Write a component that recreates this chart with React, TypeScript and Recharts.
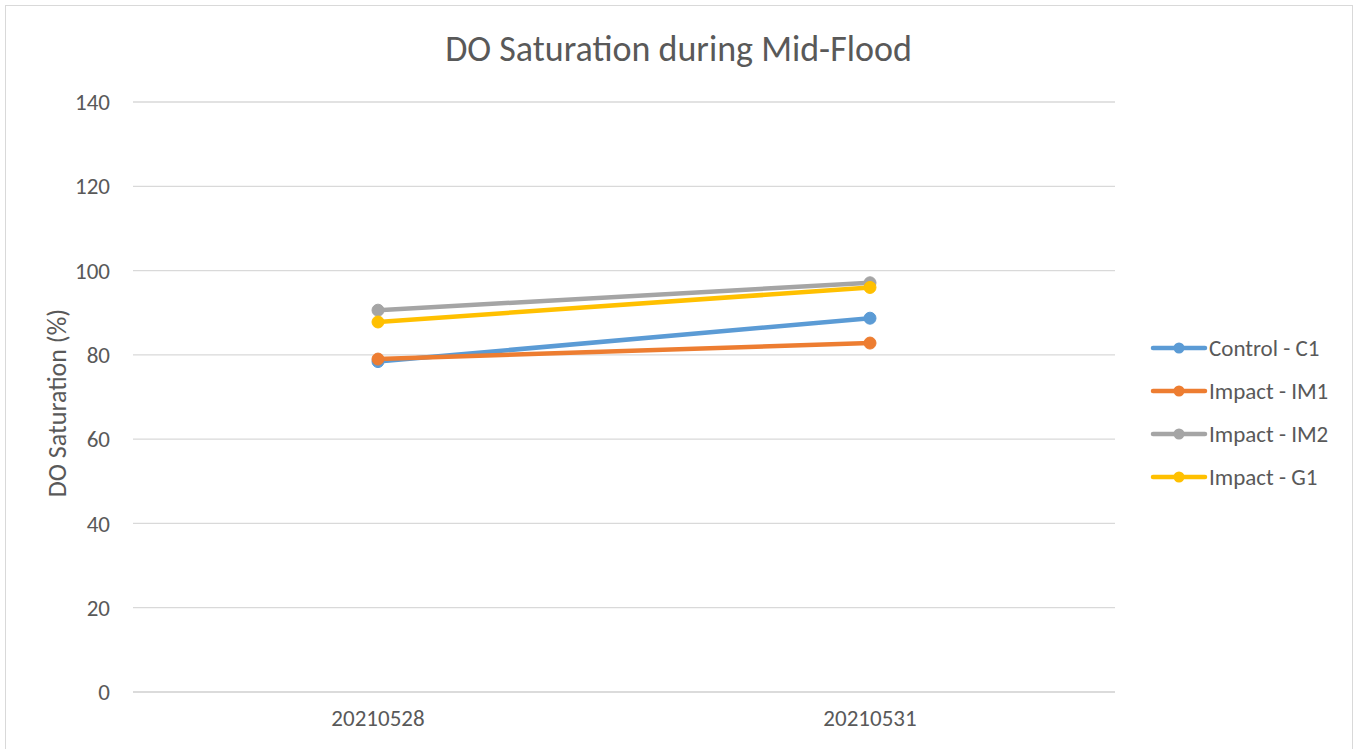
import { LineChart, Line, XAxis, YAxis, CartesianGrid } from 'recharts';

const dates = ['20210528', '20210531'];
const controlC1 = [78.4, 88.7];
const impactIM1 = [79.0, 82.8];
const impactIM2 = [90.6, 97.1];
const impactG1 = [87.8, 96.0];
const yTicks = [0, 20, 40, 60, 80, 100, 120, 140];

const SERIES = [
  { key: 'c1', name: 'Control - C1', color: '#5B9BD5' },
  { key: 'im1', name: 'Impact - IM1', color: '#ED7D31' },
  { key: 'im2', name: 'Impact - IM2', color: '#A5A5A5' },
  { key: 'g1', name: 'Impact - G1', color: '#FFC000' },
];

const data = dates.map((d, i) => ({
  date: d,
  c1: controlC1[i],
  im1: impactIM1[i],
  im2: impactIM2[i],
  g1: impactG1[i],
}));

const FONT = 'Calibri, Carlito, "Open Sans", "Liberation Sans", sans-serif';
const TEXT = '#595959';

function LegendBox() {
  return (
    <div style={{ position: 'absolute', left: 1150, top: 326, fontFamily: FONT, fontSize: 23, color: TEXT }}>
      {SERIES.map((s) => (
        <div key={s.key} style={{ display: 'flex', alignItems: 'center', height: 43 }}>
          <svg width={58} height={14}>
            <line x1={3} y1={7} x2={55} y2={7} stroke={s.color} strokeWidth={4.5} strokeLinecap="round" />
            <circle cx={29} cy={7} r={5.5} fill={s.color} />
          </svg>
          <span style={{ marginLeft: 1, whiteSpace: 'nowrap' }}>{s.name}</span>
        </div>
      ))}
    </div>
  );
}

export default function App() {
  return (
    <div style={{ position: 'absolute', left: 0, top: 0, width: 1357, height: 749, background: '#fff', overflow: 'hidden' }}>
      <div style={{ position: 'absolute', left: 5, top: 5, width: 1346, height: 760, border: '1px solid #d9d9d9' }} />
      <div style={{ position: 'absolute', left: 0, top: 0 }}>
        <LineChart width={1357} height={749} data={data} margin={{ top: 102, right: 242, bottom: 27, left: 73 }}>
          <CartesianGrid vertical={false} stroke="#d9d9d9" strokeWidth={1.3} />
          <XAxis
            dataKey="date"
            height={30}
            padding={{ left: 245, right: 245 }}
            tickLine={false}
            axisLine={{ stroke: '#d9d9d9', strokeWidth: 1.3 }}
            tickSize={0}
            tickMargin={18}
            tick={{ fill: TEXT, fontSize: 23, fontFamily: FONT }}
          />
          <YAxis
            domain={[0, 140]}
            ticks={yTicks}
            width={60}
            tickLine={false}
            axisLine={false}
            tickSize={0}
            tickMargin={23}
            tick={{ fill: TEXT, fontSize: 23, fontFamily: FONT }}
          />
          {SERIES.map((s) => (
            <Line
              key={s.key}
              dataKey={s.key}
              name={s.name}
              stroke={s.color}
              strokeWidth={4.5}
              dot={{ r: 6, fill: s.color, stroke: s.color, strokeWidth: 1 }}
              activeDot={false}
              isAnimationActive={false}
            />
          ))}
        </LineChart>
      </div>
      <div
        style={{
          position: 'absolute',
          left: 0,
          width: 1357,
          top: 27,
          textAlign: 'center',
          fontFamily: FONT,
          fontSize: 36,
          color: TEXT,
        }}
      >
        DO Saturation during Mid-Flood
      </div>
      <div
        style={{
          position: 'absolute',
          left: 57,
          top: 403,
          transform: 'translate(-50%, -50%) rotate(-90deg)',
          whiteSpace: 'nowrap',
          fontFamily: FONT,
          fontSize: 26,
          color: TEXT,
        }}
      >
        DO Saturation (%)
      </div>
      <LegendBox />
    </div>
  );
}
